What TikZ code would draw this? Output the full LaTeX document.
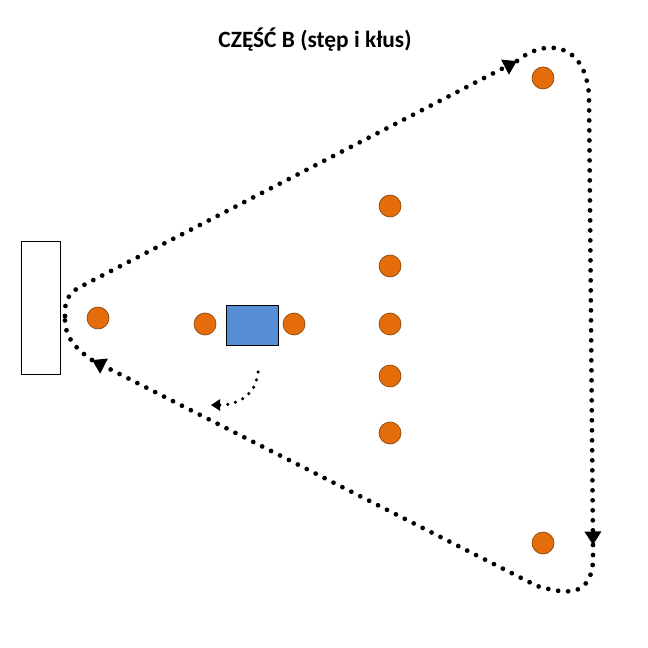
\documentclass[tikz,border=0pt]{standalone}
\usepackage{fontspec}
\setmainfont{Carlito}
\usepackage{tikz}
\usetikzlibrary{arrows.meta, positioning}
\definecolor{coneorange}{HTML}{E46C0A}
\definecolor{coneedge}{HTML}{8A4A12}
\definecolor{boxblue}{HTML}{558ED5}

\begin{document}
\begin{tikzpicture}[
    x=0.02cm, y=-0.02cm,
    cone/.style={circle, draw=coneedge, line width=0.4pt, fill=coneorange, minimum size=0.44cm, inner sep=0pt},
    track/.style={line width=0.095cm, line cap=round, dash pattern=on 0pt off 0.2cm},
    tip/.style={-{Triangle[width=0.32cm, length=0.27cm]}}
]
    \useasboundingbox (0,0) rectangle (647,648);

    % Title
    \node[font=\fontsize{13.3}{15}\selectfont\bfseries] (title) at (315,40) {CZĘŚĆ B (stęp i kłus)};

    % Wall and table
    \node[draw, fill=white, minimum width=0.78cm, minimum height=2.66cm, inner sep=0pt] (wall) at (40.5,307.5) {};
    \node[draw, fill=boxblue, minimum width=1.04cm, minimum height=0.8cm, inner sep=0pt] (table) at (252,325) {};

    % Cones
    \node[cone] (c1) at (543,78) {};
    \node[cone] (c2) at (98,318) {};
    \node[cone] (c3) at (205,324) {};
    \node[cone] (c4) at (294,324) {};
    \node[cone] (c5) at (390,206) {};
    \node[cone] (c6) at (390,266) {};
    \node[cone] (c7) at (390,324) {};
    \node[cone] (c8) at (390,376) {};
    \node[cone] (c9) at (390,433) {};
    \node[cone] (c10) at (543,543) {};

    % Track points
    \coordinate (apex) at (65,316);
    \coordinate (toparr) at (517,61);
    \coordinate (rightarr) at (593,545);
    \coordinate (leftarr) at (92,360);
    \coordinate (turnA) at (258,372);
    \coordinate (turnB) at (211,405);

    % Dotted track
    \draw[track, tip] (apex) .. controls (64,300) and (70,292) .. (80,287) -- (toparr);
    \draw[track, tip] (toparr) .. controls (545,38) and (585,42) .. (589,95) -- (rightarr);
    \draw[track, tip] (rightarr) -- (593,562) .. controls (590,598) and (565,594) .. (537,586) -- (leftarr);
    \draw[track] (leftarr) .. controls (70,345) and (64,332) .. (apex);

    % Small turn
    \draw[line width=0.07cm, line cap=round, dash pattern=on 0pt off 0.16cm, -{Triangle[width=0.22cm, length=0.18cm]}] (turnA) .. controls (256,395) and (238,405) .. (turnB);
\end{tikzpicture}
\end{document}
